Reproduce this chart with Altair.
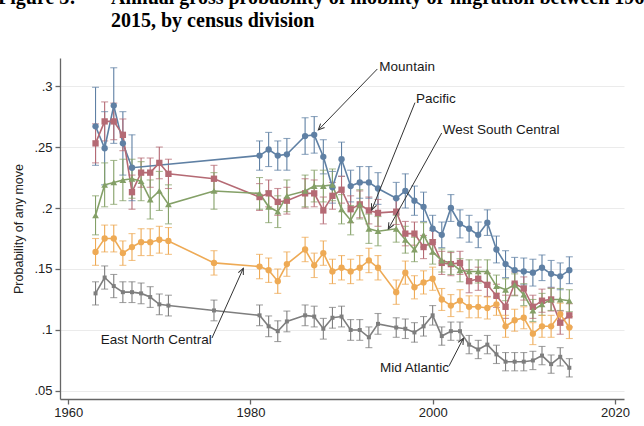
import math
import altair as alt
import pandas as pd

# Survey years (no annual mobility question in 1972-75, 1977-80, 1985, 1995)
YEARS = [1963, 1964, 1965, 1966, 1967, 1968, 1969, 1970, 1971, 1976,
         1981, 1982, 1983, 1984, 1986, 1987, 1988, 1989, 1990, 1991, 1992, 1993, 1994,
         1996, 1997, 1998, 1999, 2000, 2001, 2002, 2003, 2004, 2005, 2006, 2007,
         2008, 2009, 2010, 2011, 2012, 2013, 2014, 2015]

MOUNTAIN = [.267, .249, .284, .253, .233, None, None, None, None, None,
            .243, .248, .243, .244, .259, .260, .242, .217, .240, .218, .221, .221, .216,
            .208, .214, .206, .201, .183, .178, .200, .187, .183, .178, .188, .166,
            .154, .149, .148, .147, .151, .146, .144, .149]
MOUNTAIN_CI = [.032, .030, .031, .026, .027, None, None, None, None, None,
               .012, .014, .012, .013, .015, .015, .014, .013, .014, .013, .013, .013, .013,
               .013, .014, .012, .012, .011, .0105, .011, .0115, .011, .0105, .0105, .011,
               .011, .0105, .011, .011, .0105, .011, .011, .011]

PACIFIC = [.253, .271, .271, .260, .213, .229, .229, .237, .228, .224,
           .209, .212, .205, .206, .212, .212, .198, .210, .215, .199, .203, .198, .196,
           .197, .179, .179, .168, .172, .155, .154, .155, .140, .142, .137, .128,
           .119, .138, .134, .119, .124, .125, .106, .112]
PACIFIC_CI = [.016, .016, .015, .013, .014, .012, .012, .013, .012, .011,
              .011, .011, .011, .011, .012, .011, .011, .011, .011, .011, .011, .011, .011,
              .0105, .0100, .0095, .0095, .0095, .0095, .0095, .0095, .0095, .0095, .0095, .0095,
              .0095, .0095, .0095, .0095, .0095, .0095, .0095, .0095]

WEST_SOUTH_CENTRAL = [.194, .219, .221, .223, .224, .222, .207, .214, .203, .214,
                      .212, .201, .197, .210, .214, .218, .218, .219, .199, .190, .203, .183, .181,
                      .183, .174, .166, .178, .164, .157, .155, .149, .148, .148, .148, .136,
                      .133, .137, .129, .116, .121, .125, .125, .124]
WEST_SOUTH_CENTRAL_CI = [.016, .018, .018, .017, .016, .016, .016, .016, .016, .015,
                         .013, .013, .013, .013, .013, .013, .013, .013, .012, .012, .012, .012, .012,
                         .011, .011, .010, .010, .010, .0095, .0095, .0095, .0095, .0095, .0095, .009,
                         .009, .009, .009, .009, .009, .009, .009, .009]

EAST_NORTH_CENTRAL = [.164, .175, .175, .163, .168, .172, .172, .174, .173, .155,
                      .152, .149, .140, .154, .166, .153, .163, .148, .151, .148, .151, .157, .151,
                      .131, .147, .135, .139, .142, .125, .120, .124, .119, .119, .118, .121,
                      .103, .108, .110, .097, .103, .103, .113, .102]
EAST_NORTH_CENTRAL_CI = [.011, .011, .011, .010, .011, .011, .011, .011, .011, .010,
                         .010, .010, .010, .010, .010, .010, .010, .010, .010, .010, .010, .010, .010,
                         .010, .0095, .0095, .0095, .0095, .009, .009, .009, .009, .009, .009, .009,
                         .009, .009, .009, .009, .009, .009, .009, .009]

MID_ATLANTIC = [.130, .143, .136, .131, .131, .130, .127, .121, .120, .116,
                .112, .103, .099, .107, .112, .111, .101, .110, .111, .100, .100, .094, .105,
                .102, .101, .098, .103, .112, .095, .099, .099, .088, .084, .088, .080,
                .074, .074, .074, .075, .079, .072, .078, .069]
MID_ATLANTIC_CI = [.0095, .0095, .0095, .0085, .0085, .0085, .0085, .0085, .0085, .0085,
                   .0085, .0085, .0085, .0085, .0085, .0085, .0085, .0085, .0085, .0085, .0085, .0085, .0085,
                   .008, .008, .008, .008, .008, .0075, .0075, .0075, .0075, .0075, .0075, .0075,
                   .0075, .0075, .0075, .0075, .0075, .0075, .0075, .0075]

DIVISIONS = ["Mountain", "Pacific", "West South Central", "East North Central", "Mid Atlantic"]
SERIES = [MOUNTAIN, PACIFIC, WEST_SOUTH_CENTRAL, EAST_NORTH_CENTRAL, MID_ATLANTIC]
SERIES_CI = [MOUNTAIN_CI, PACIFIC_CI, WEST_SOUTH_CENTRAL_CI, EAST_NORTH_CENTRAL_CI, MID_ATLANTIC_CI]

COLORS = ["#173f69", "#8c2a37", "#4d6e2a", "#e27c00", "#444444"]
BAR_COLORS = ["#5f80a4", "#b56a74", "#84a067", "#eeaa55", "#7e7e7e"]
SHAPES = ["circle", "square", "triangle-up", "circle", "square"]
MARK_SIZES = [40, 40, 46, 40, 16]

# Callout labels (data coordinates): text anchor, leader start, arrow tip
CALLOUTS = [
    ("Mountain", 1994.15, .3154, 1993.93, .3140, 1987.45, .2640),
    ("Pacific", 1998.17, .2891, 1998.06, .2864, 1993.31, .1984),
    ("West South Central", 2001.10, .2640, 2000.99, .2615, 1995.13, .1828),
    ("East North Central", 1963.57, .0918, 1975.78, .0934, 1979.22, .1506),
    ("Mid Atlantic", 1994.22, .0691, 2001.80, .0705, 2003.37, .0932),
]

X_DOMAIN = [1959.1, 2021.0]
Y_DOMAIN = [0.0434, 0.323]
W, H = 564, 341

rows = []
for name, vals, cis, msize in zip(DIVISIONS, SERIES, SERIES_CI, MARK_SIZES):
    for yr, v, c in zip(YEARS, vals, cis):
        if v is None:
            continue
        rows.append({"year": yr, "division": name, "value": v,
                     "lo": v - c, "hi": v + c, "msize": msize})
df = pd.DataFrame(rows)

px_x = W / (X_DOMAIN[1] - X_DOMAIN[0])
px_y = H / (Y_DOMAIN[1] - Y_DOMAIN[0])
ann = []
for label, tx, ty, x0, y0, x1, y1 in CALLOUTS:
    dx = (x1 - x0) * px_x
    dy = -(y1 - y0) * px_y
    angle = math.degrees(math.atan2(dx, -dy)) % 360
    ann.append({"label": label, "tx": tx, "ty": ty, "x0": x0, "y0": y0,
                "x1": x1, "y1": y1, "angle": angle})
ann_df = pd.DataFrame(ann)

x_scale = alt.Scale(domain=X_DOMAIN, nice=False, zero=False)
y_scale = alt.Scale(domain=Y_DOMAIN, nice=False, zero=False)
x_axis = alt.Axis(values=[1960, 1980, 2000, 2020], format="d", grid=False, title=None,
                  labelPadding=2, tickSize=5)
y_axis = alt.Axis(values=[0.05, 0.1, 0.15, 0.2, 0.25, 0.3], grid=True,
                  labelExpr="replace(format(datum.value, '~g'), '0.', '.')",
                  labelPadding=3, tickSize=5, title="Probability of any move",
                  titleFont="Liberation Sans", titleFontSize=12.5, titleFontWeight="normal",
                  titleColor="#222222", titleX=-35, titleY=170.5, titleAlign="center",
                  titleBaseline="bottom", titleAngle=270)


def X(field):
    return alt.X(field, type="quantitative", scale=x_scale, axis=x_axis)


def Y(field):
    return alt.Y(field, type="quantitative", scale=y_scale, axis=y_axis)


color_bar = alt.Color("division:N", scale=alt.Scale(domain=DIVISIONS, range=BAR_COLORS), legend=None)
color = alt.Color("division:N", scale=alt.Scale(domain=DIVISIONS, range=COLORS), legend=None)

base = alt.Chart(df)

bars = base.mark_rule(strokeWidth=1.1).encode(x=X("year"), y=Y("lo"), y2="hi", color=color_bar)
caps_lo = base.mark_tick(orient="horizontal", size=7, thickness=1.1).encode(
    x=X("year"), y=Y("lo"), color=color_bar)
caps_hi = base.mark_tick(orient="horizontal", size=7, thickness=1.1).encode(
    x=X("year"), y=Y("hi"), color=color_bar)
lines = base.mark_line(strokeWidth=1.6).encode(
    x=X("year"), y=Y("value"), color=color, detail="division:N")
points = base.mark_point(filled=True, opacity=1).encode(
    x=X("year"), y=Y("value"), color=color,
    shape=alt.Shape("division:N", scale=alt.Scale(domain=DIVISIONS, range=SHAPES), legend=None),
    size=alt.Size("msize:Q", scale=None))

abase = alt.Chart(ann_df)
leaders = abase.mark_rule(color="#333333", strokeWidth=1).encode(
    x=X("x0"), y=Y("y0"), x2="x1", y2="y1")
heads = abase.mark_point(shape="M-0.45,1L0,0L0.45,1", filled=False, color="#333333",
                         strokeWidth=1, size=150, opacity=1).encode(
    x=X("x1"), y=Y("y1"), angle=alt.Angle("angle:Q", scale=None))
labels = abase.mark_text(align="left", baseline="middle", font="Liberation Sans",
                         fontSize=13.5, color="#1a1a1a").encode(
    x=X("tx"), y=Y("ty"), text="label:N")

title_font = dict(font="Liberation Serif", fontSize=20, fontWeight="bold",
                  color="#000000", align="left", baseline="alphabetic")
t1 = alt.Chart(pd.DataFrame({"t": ["Figure 3:"]})).mark_text(**title_font).encode(
    x=alt.value(-62), y=alt.value(-54), text="t:N")
t2 = alt.Chart(pd.DataFrame({"t": ["Annual gross probability of mobility or migration between 1963 and"]})).mark_text(**title_font).encode(
    x=alt.value(51), y=alt.value(-54), text="t:N")
t3 = alt.Chart(pd.DataFrame({"t": ["2015, by census division"]})).mark_text(**title_font).encode(
    x=alt.value(51), y=alt.value(-31), text="t:N")

chart = alt.layer(bars, caps_lo, caps_hi, lines, points, leaders, heads, labels, t1, t2, t3).properties(
    width=W, height=H,
    padding={"left": 60, "top": 58, "right": 20, "bottom": 27},
    autosize=alt.AutoSizeParams(type="none"),
    background="white",
).configure_view(stroke=None).configure_axis(
    domainColor="#666666", domainWidth=1.3, tickColor="#666666", tickWidth=1.3,
    labelFont="Liberation Sans", labelFontSize=13, labelColor="#222222",
    gridColor="#ebebeb", gridWidth=1,
)

chart.save("out.html", embed_options={"renderer": "svg", "actions": False})
